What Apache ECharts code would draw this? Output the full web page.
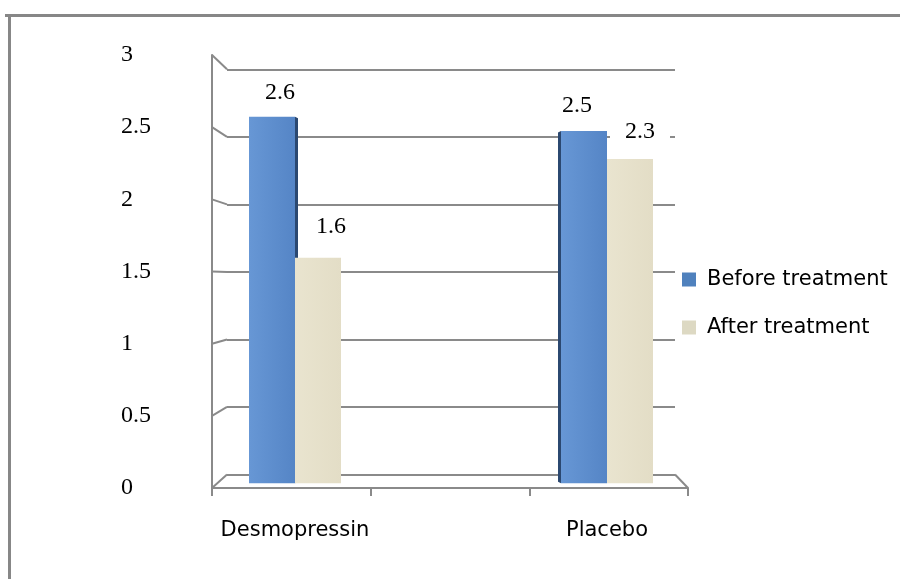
<!DOCTYPE html>
<html>
<head>
<meta charset="utf-8">
<script src="https://cdn.jsdelivr.net/npm/echarts@6/dist/echarts.min.js"></script>
<style>
  html, body { margin: 0; padding: 0; background: #fff; }
  #chart { width: 900px; height: 579px; }
</style>
</head>
<body>
<div id="chart"></div>
<script>
// Chart data
const categories = ['Desmopressin', 'Placebo'];
const seriesNames = ['Before treatment', 'After treatment'];
const beforeTreatment = [2.6, 2.5];
const afterTreatment = [1.6, 2.3];
const axisMin = 0;
const axisMax = 3;
const axisStep = 0.5;

// Styling
const GRID_GREY = '#8a8a8a';
const BLUE = '#4F81BD';
const BEIGE = '#DDD9C3';
const SERIF = 'Liberation Serif';
const SANS = 'DejaVu Sans';

// nudges for the value labels [dx, dy], per series and category
const beforeNudge = [[8, -5], [-7, -6]];
const afterNudge = [[13, -12], [10, -8]];

const chart = echarts.init(document.getElementById('chart'), null, { renderer: 'canvas' });

function tickValues() {
  const out = [];
  for (let v = axisMin; v <= axisMax + 1e-9; v += axisStep) out.push(+v.toFixed(2));
  return out;
}

function labelled(values, nudges) {
  return values.map((v, i) => ({
    value: v,
    label: { offset: nudges[i] }
  }));
}

const valueLabel = {
  show: true,
  position: 'top',
  distance: 5,
  fontFamily: SERIF,
  fontSize: 24,
  color: '#000',
  backgroundColor: '#fff',
  padding: [2, 15]
};

const blueFace = new echarts.graphic.LinearGradient(0, 0, 1, 0, [
  { offset: 0, color: '#6797d5' },
  { offset: 1, color: '#5585c6' }
]);
const beigeFace = new echarts.graphic.LinearGradient(0, 0, 1, 0, [
  { offset: 0, color: '#e9e4cf' },
  { offset: 1, color: '#e3ddc6' }
]);

const option = {
  backgroundColor: '#fff',
  animation: false,
  grid: [
    // back wall
    { left: 227, top: 69.3, width: 448, height: 405.2 },
    // columns
    { left: 139, top: 60.4, width: 624, height: 422.9 },
    // front edge of the wall and floor, with the value labels
    { left: 212, top: 55, width: 476, height: 433 }
  ],
  xAxis: [
    { gridIndex: 0, type: 'value', min: 0, max: 1, show: false },
    {
      gridIndex: 1, type: 'category', data: categories,
      axisLine: { show: false }, axisTick: { show: false },
      axisLabel: { fontFamily: SANS, fontSize: 21, color: '#000', margin: 37 }
    },
    {
      gridIndex: 2, type: 'value', min: 0, max: 3, interval: 1,
      axisLine: { show: true, lineStyle: { color: GRID_GREY, width: 2 } },
      axisTick: { show: true, length: 8, lineStyle: { color: GRID_GREY, width: 2 } },
      axisLabel: { show: false },
      splitLine: { show: false }
    }
  ],
  yAxis: [
    {
      gridIndex: 0, type: 'value', min: axisMin, max: axisMax, interval: axisStep,
      axisLine: { show: false }, axisTick: { show: false }, axisLabel: { show: false },
      splitLine: { show: true, lineStyle: { color: GRID_GREY, width: 2 } }
    },
    {
      gridIndex: 1, type: 'value', min: axisMin, max: axisMax, interval: axisStep,
      show: false, splitLine: { show: false }
    },
    {
      gridIndex: 2, type: 'value', min: axisMin, max: axisMax, interval: axisStep,
      axisLine: { show: true, lineStyle: { color: GRID_GREY, width: 2 } },
      axisTick: { show: false },
      splitLine: { show: false },
      axisLabel: {
        fontFamily: SERIF, fontSize: 24, color: '#000',
        align: 'left', margin: 91
      }
    }
  ],
  legend: {
    orient: 'vertical',
    left: 677,
    top: 264,
    itemWidth: 14,
    itemHeight: 14,
    itemGap: 27,
    icon: 'rect',
    textStyle: { fontFamily: SANS, fontSize: 21, color: '#000', padding: [0, 0, 0, 6] },
    data: [
      { name: seriesNames[0], itemStyle: { color: BLUE } },
      { name: seriesNames[1], itemStyle: { color: BEIGE } }
    ]
  },
  series: [
    {
      name: seriesNames[0],
      type: 'bar',
      xAxisIndex: 1, yAxisIndex: 1,
      barWidth: 46,
      barGap: '0%',
      itemStyle: { color: blueFace },
      label: valueLabel,
      data: labelled(beforeTreatment, beforeNudge),
      z: 3
    },
    {
      // dark side face of the front columns, on the side facing the centre
      name: 'side',
      type: 'custom',
      xAxisIndex: 1, yAxisIndex: 1,
      z: 3,
      silent: true,
      data: beforeTreatment.map((v, i) => [i, v]),
      renderItem: function (params, api) {
        const i = api.value(0);
        const top = api.coord([i, api.value(1)]);
        const base = api.coord([i, 0]);
        const cs = params.coordSys;
        const mid = cs.x + cs.width / 2;
        const depth = 3;
        const slant = 1.5;
        const onLeft = top[0] < mid;
        const x0 = onLeft ? top[0] : top[0] - 46 - depth;
        const x1 = x0 + depth;
        return {
          type: 'polygon',
          shape: {
            points: onLeft
              ? [[x0, top[1]], [x1, top[1] + slant], [x1, base[1] - slant], [x0, base[1]]]
              : [[x0, top[1] + slant], [x1, top[1]], [x1, base[1]], [x0, base[1] - slant]]
          },
          style: { fill: '#2b4870' }
        };
      }
    },
    {
      name: seriesNames[1],
      type: 'bar',
      xAxisIndex: 1, yAxisIndex: 1,
      barWidth: 46,
      barGap: '0%',
      itemStyle: { color: beigeFace },
      label: valueLabel,
      data: labelled(afterTreatment, afterNudge),
      z: 4
    }
  ]
};

chart.setOption(option);

// Wall edges joining the front scale to the back wall, plus the outer frame
const wallLines = [];
tickValues().forEach(v => {
  const front = chart.convertToPixel({ xAxisIndex: 2, yAxisIndex: 2 }, [0, v]);
  const back = chart.convertToPixel({ xAxisIndex: 0, yAxisIndex: 0 }, [0, v]);
  wallLines.push({
    type: 'line', z: 1,
    shape: { x1: front[0], y1: front[1], x2: back[0], y2: back[1] },
    style: { stroke: GRID_GREY, lineWidth: 2 }
  });
});
const floorFront = chart.convertToPixel({ xAxisIndex: 2, yAxisIndex: 2 }, [3, 0]);
const floorBack = chart.convertToPixel({ xAxisIndex: 0, yAxisIndex: 0 }, [1, 0]);
wallLines.push({
  type: 'line', z: 1,
  shape: { x1: floorBack[0], y1: floorBack[1], x2: floorFront[0], y2: floorFront[1] },
  style: { stroke: GRID_GREY, lineWidth: 2 }
});

chart.setOption({
  graphic: wallLines.concat([
    {
      type: 'line', z: 10,
      shape: { x1: 5, y1: 15.5, x2: 900, y2: 15.5 },
      style: { stroke: '#878787', lineWidth: 3 }
    },
    {
      type: 'line', z: 10,
      shape: { x1: 9.5, y1: 14, x2: 9.5, y2: 579 },
      style: { stroke: '#878787', lineWidth: 3 }
    }
  ])
});
</script>
</body>
</html>
